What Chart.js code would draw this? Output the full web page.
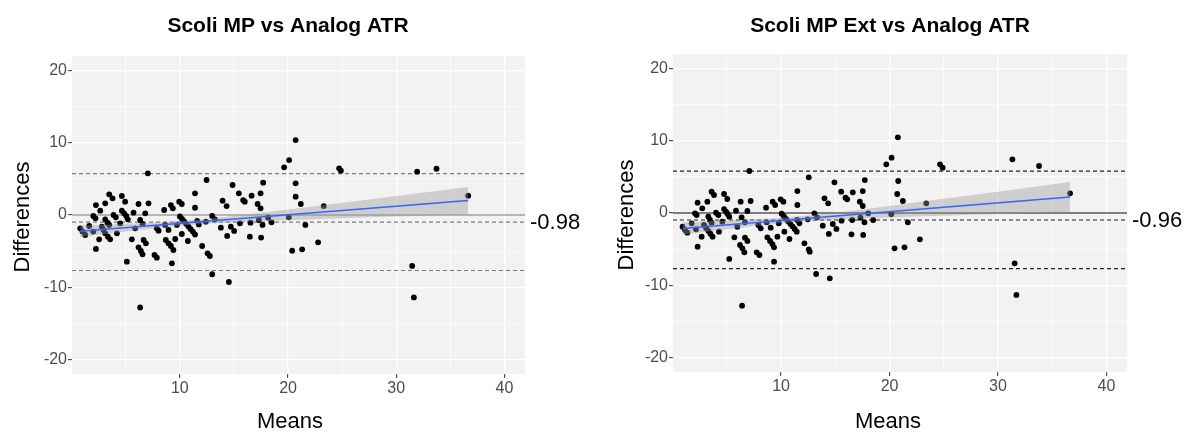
<!DOCTYPE html>
<html><head><meta charset="utf-8">
<script src="https://cdn.jsdelivr.net/npm/chart.js@4.4.1/dist/chart.umd.min.js"></script>
<style>
html,body{margin:0;padding:0;background:#fff;width:1184px;height:432px;overflow:hidden}
.c{position:absolute;top:0;width:592px;height:432px}
</style></head><body>
<div class="c" style="left:0"><canvas id="a" width="592" height="432"></canvas></div>
<div class="c" style="left:592px"><canvas id="b" width="592" height="432"></canvas></div>
<script>
const titleA = 'Scoli MP vs Analog ATR';
const titleB = 'Scoli MP Ext vs Analog ATR';
const xLabel = 'Means';
const yLabel = 'Differences';

const meansA = [7.04,0.79,1.0,1.25,1.62,2.0,2.0,2.2,2.24,2.24,2.54,2.64,2.79,2.95,3.1,3.35,3.56,3.1,3.1,3.31,3.47,3.47,3.78,3.87,4.08,4.18,4.48,4.64,4.94,4.64,4.85,5.04,5.19,5.1,5.56,5.72,5.87,6.18,6.33,6.55,6.18,6.4,6.55,6.65,6.86,6.8,7.1,6.33,7.66,7.87,7.87,8.03,8.55,8.64,8.7,8.95,9.17,8.95,9.17,9.35,9.4,9.26,9.57,9.73,9.94,10.18,10.0,10.2,10.4,10.6,10.8,11.0,11.2,11.4,10.18,10.74,11.4,11.4,11.6,11.75,12.06,12.56,12.77,12.99,12.4,12.99,13.24,13.79,13.95,14.32,14.37,14.53,14.71,14.87,15.02,15.45,15.55,15.85,16.0,16.47,16.53,16.63,17.18,17.46,17.3,17.46,17.51,17.64,17.7,18.16,18.47,20.07,20.38,20.7,20.7,21.18,21.3,21.6,22.78,20.7,19.64,20.1,12.47,24.72,24.88,23.3,31.93,33.72,36.65,31.47,31.63];
const diffsA = [5.77,-1.84,-2.3,-2.77,-1.52,-2.3,-0.14,-0.46,1.38,-4.7,-3.36,0.6,-1.61,-2.07,-2.53,-3.0,-3.36,1.62,-0.6,-1.06,-1.38,2.86,2.31,0,-0.32,-2.53,-1.15,2.63,1.84,0.6,0.23,-0.14,-0.6,-6.46,-3.36,0.32,-1.84,1.52,-0.69,-1.24,-4.47,-4.98,-5.44,-3.46,-3.92,0.23,1.62,-12.8,-5.53,-5.9,-1.84,-2.17,0.69,-1.38,-3.46,-3.92,-4.29,-2.07,1.38,0.92,-4.84,-6.68,-3.32,-1.38,1.84,1.52,-0.2,-0.55,-0.9,-1.25,-1.6,-1.95,-2.3,-2.7,-2.63,-3.6,3.0,1.0,-0.8,-1.3,-4.29,-5.3,-5.67,-8.2,-0.92,-0.14,-0.6,-1.75,1.98,1.24,-2.9,-9.27,-1.61,4.15,-2.21,3.0,-1.15,2.07,1.84,-3.0,-1.06,2.67,1.52,0.92,-0.69,3.0,-3.13,-1.38,4.47,-0.37,-1.01,-0.32,-4.93,4.38,2.53,1.52,-4.75,-1.38,-3.78,10.37,6.6,7.6,4.84,6.46,6.13,1.24,5.99,6.4,2.67,-7.05,-11.4];

const meansB = [7.07,0.91,1.14,1.35,1.75,2.15,2.06,2.21,2.3,2.3,2.67,2.73,2.89,3.08,3.28,3.48,3.68,3.2,3.29,3.44,3.59,3.59,3.81,4.0,4.21,4.27,4.58,4.74,5.04,4.74,4.92,5.07,5.22,5.22,5.69,5.84,5.96,6.27,6.36,6.67,6.21,6.43,6.61,6.67,6.89,6.89,7.19,6.4,7.75,8.0,7.9,8.12,8.61,8.67,8.73,8.98,9.2,9.35,9.04,9.22,9.45,9.35,9.66,9.78,9.96,10.21,10.05,10.25,10.45,10.65,10.85,11.05,11.25,11.44,10.3,10.77,11.5,11.5,11.48,11.69,12.15,12.55,12.64,13.23,12.46,13.07,13.32,13.84,14.0,14.34,14.4,14.49,14.77,14.92,15.1,15.54,15.57,15.94,16.1,16.49,16.56,16.61,17.26,17.53,17.32,17.53,17.57,17.69,17.72,18.03,18.49,20.16,20.46,20.8,20.71,21.23,21.38,21.69,22.8,20.77,19.7,20.19,12.55,24.65,24.9,23.39,31.33,33.79,36.65,31.54,31.7];
const diffsB = [5.81,-1.9,-2.35,-2.72,-1.43,-2.26,-0.05,-0.28,1.43,-4.66,-3.28,0.65,-1.66,-2.06,-2.46,-2.87,-3.28,1.57,-0.51,-0.97,-1.34,2.95,2.49,0.05,-0.28,-2.58,-1.2,2.63,1.94,0.55,0.18,-0.14,-0.51,-6.36,-3.37,0.32,-1.9,1.57,-0.6,-1.29,-4.43,-4.89,-5.44,-3.41,-3.87,0.28,1.66,-12.82,-5.44,-5.81,-1.66,-2.12,0.74,-1.29,-3.37,-3.87,-4.3,-4.75,-2.03,1.57,1.11,-6.73,-3.28,-1.43,1.89,1.57,-0.1,-0.45,-0.8,-1.15,-1.5,-1.85,-2.2,-2.58,-2.58,-3.6,3.04,1.11,-0.97,-1.43,-4.2,-5.02,-5.35,-8.44,-0.88,-0.05,-0.6,-1.75,2.03,1.34,-2.9,-9.04,-1.52,4.24,-2.21,2.95,-1.06,2.12,1.89,-2.95,-0.97,2.86,1.57,0.97,-0.65,3.04,-3.04,-1.29,4.56,-0.05,-0.97,-0.18,-4.89,4.43,2.63,1.66,-4.75,-1.29,-3.64,10.47,6.73,7.65,4.94,6.73,6.27,1.34,7.43,6.5,2.72,-6.96,-11.34];

// mean difference and limits of agreement
const linesA = [-0.98, 5.72, -7.68];
const linesB = [-0.96, 5.80, -7.70];
const biasLabelA = '-0.98';
const biasLabelB = '-0.96';

// linear fit and its confidence band
const fitMeansA = [0.79, 36.65];
const fitDiffsA = [-2.25, 1.99];
const bandMeansA = [0.79, 5, 10, 15, 20, 25, 30, 36.65];
const bandUpperA = [-1.45, -1.20, -0.82, -0.13, 0.75, 1.68, 2.62, 3.89];
const bandLowerA = [-3.05, -2.30, -1.50, -1.01, -0.71, -0.46, -0.22, 0.08];

const fitMeansB = [0.91, 36.65];
const fitDiffsB = [-2.15, 2.21];
const bandMeansB = [0.91, 5, 10, 15, 20, 25, 30, 36.65];
const bandUpperB = [-1.28, -1.05, -0.67, 0.05, 0.98, 1.96, 2.95, 4.28];
const bandLowerB = [-3.02, -2.25, -1.41, -0.91, -0.62, -0.38, -0.15, 0.14];

const xTickVals = [5, 10, 15, 20, 25, 30, 35, 40];
const xTickLabels = [10, 20, 30, 40];
const yTickVals = [-20, -15, -10, -5, 0, 5, 10, 15, 20];
const yTickLabels = [-20, -10, 0, 10, 20];

const FONT = '"Liberation Sans", Arial, Helvetica, sans-serif';

function pts(xs, ys) { return xs.map((v, i) => ({x: v, y: ys[i]})); }

function build(id, d, g) {
  const decor = {
    id: 'decor' + id,
    beforeDraw(chart) {
      const {ctx, chartArea: a} = chart;
      ctx.save();
      ctx.fillStyle = '#F2F2F2';
      ctx.fillRect(a.left, a.top, a.right - a.left, a.bottom - a.top);
      ctx.restore();
    },
    beforeDatasetsDraw(chart) {
      const {ctx, chartArea: a, scales: {y}} = chart;
      ctx.save();
      ctx.beginPath(); ctx.rect(a.left, a.top, a.right - a.left, a.bottom - a.top); ctx.clip();
      let py = y.getPixelForValue(0);
      ctx.strokeStyle = g.zeroColor; ctx.lineWidth = g.zeroWidth; ctx.setLineDash([]);
      ctx.beginPath(); ctx.moveTo(a.left, py); ctx.lineTo(a.right, py); ctx.stroke();
      ctx.strokeStyle = g.dashColor; ctx.lineWidth = 1.1; ctx.setLineDash([4, 3]);
      d.lines.forEach(v => {
        const p = y.getPixelForValue(v);
        ctx.beginPath(); ctx.moveTo(a.left, p); ctx.lineTo(a.right, p); ctx.stroke();
      });
      ctx.restore();
    },
    afterDraw(chart) {
      const {ctx, chartArea: a, scales: {y}} = chart;
      ctx.save();
      ctx.fillStyle = '#000';
      ctx.textAlign = 'center'; ctx.textBaseline = 'middle';
      ctx.font = 'bold 21px ' + FONT;
      ctx.fillText(d.title, g.titleX, 26);
      ctx.font = '22px ' + FONT;
      ctx.fillText(xLabel, g.xLabX, 422);
      ctx.save();
      ctx.translate(g.yLabX, (a.top + a.bottom) / 2 + 2);
      ctx.rotate(-Math.PI / 2);
      ctx.fillText(yLabel, 0, 0);
      ctx.restore();
      ctx.textAlign = 'left';
      ctx.font = '22px ' + FONT;
      ctx.fillText(d.biasLabel, a.right + 5, y.getPixelForValue(d.lines[0]) + 1);
      ctx.restore();
    }
  };
  return new Chart(document.getElementById(id), {
    type: 'scatter',
    data: {
      datasets: [
        {type: 'line', data: pts(d.fitX, d.fitY), borderColor: '#3366FF', borderWidth: 1.5, pointRadius: 0, fill: false, order: 0},
        {type: 'line', data: pts(d.bandX, d.bandU), borderWidth: 0, borderColor: 'rgba(0,0,0,0)', pointRadius: 0, fill: false, cubicInterpolationMode: 'monotone', order: 1},
        {type: 'line', data: pts(d.bandX, d.bandL), borderWidth: 0, borderColor: 'rgba(0,0,0,0)', pointRadius: 0, fill: '-1', backgroundColor: 'rgba(153,153,153,0.4)', cubicInterpolationMode: 'monotone', order: 1},
        {data: pts(d.mx, d.my), backgroundColor: '#000', borderWidth: 0, pointRadius: 2.9, pointHoverRadius: 2.9, order: 2}
      ]
    },
    options: {
      responsive: false, animation: false, devicePixelRatio: 1,
      layout: {padding: {left: 0, right: g.padRight, top: g.padTop, bottom: 0}},
      plugins: {legend: {display: false}, tooltip: {enabled: false}},
      scales: {
        x: {
          type: 'linear', min: 0.03, max: 41.9,
          afterBuildTicks: s => { s.ticks = xTickVals.map(v => ({value: v})); },
          afterFit: s => { s.height = g.xHeight; },
          border: {display: false},
          grid: {
            color: '#FFFFFF',
            lineWidth: c => (c.tick && xTickLabels.includes(c.tick.value)) ? 1.3 : 0.6,
            tickColor: c => (c.tick && xTickLabels.includes(c.tick.value)) ? '#333333' : 'rgba(0,0,0,0)',
            tickLength: 4, tickWidth: 1
          },
          ticks: {
            autoSkip: false, maxRotation: 0, padding: 1, color: '#4D4D4D',
            font: {size: 16, family: FONT},
            callback: v => xTickLabels.includes(v) ? String(v) : ''
          }
        },
        y: {
          type: 'linear', min: -22, max: 22,
          afterBuildTicks: s => { s.ticks = yTickVals.map(v => ({value: v})); },
          afterFit: s => { s.width = g.yWidth; },
          border: {display: false},
          grid: {
            color: '#FFFFFF',
            lineWidth: c => (c.tick && yTickLabels.includes(c.tick.value)) ? 1.3 : 0.6,
            tickColor: c => (c.tick && yTickLabels.includes(c.tick.value)) ? '#333333' : 'rgba(0,0,0,0)',
            tickLength: 4, tickWidth: 1
          },
          ticks: {
            autoSkip: false, padding: 1, color: '#4D4D4D',
            font: {size: 16, family: FONT},
            callback: v => yTickLabels.includes(v) ? String(v) : ''
          }
        }
      }
    },
    plugins: [decor]
  });
}

build('a', {
  title: titleA, mx: meansA, my: diffsA, lines: linesA, biasLabel: biasLabelA,
  fitX: fitMeansA, fitY: fitDiffsA, bandX: bandMeansA, bandU: bandUpperA, bandL: bandLowerA
}, {padRight: 67, padTop: 56, xHeight: 58, yWidth: 72, titleX: 288, xLabX: 290, yLabX: 23,
    zeroColor: '#B5B5B5', zeroWidth: 1.8, dashColor: '#7A7A7A'});

build('b', {
  title: titleB, mx: meansB, my: diffsB, lines: linesB, biasLabel: biasLabelB,
  fitX: fitMeansB, fitY: fitDiffsB, bandX: bandMeansB, bandU: bandUpperB, bandL: bandLowerB
}, {padRight: 57, padTop: 54, xHeight: 60, yWidth: 81, titleX: 298, xLabX: 296, yLabX: 35,
    zeroColor: '#555555', zeroWidth: 1.3, dashColor: '#222222'});
</script>
</body></html>
